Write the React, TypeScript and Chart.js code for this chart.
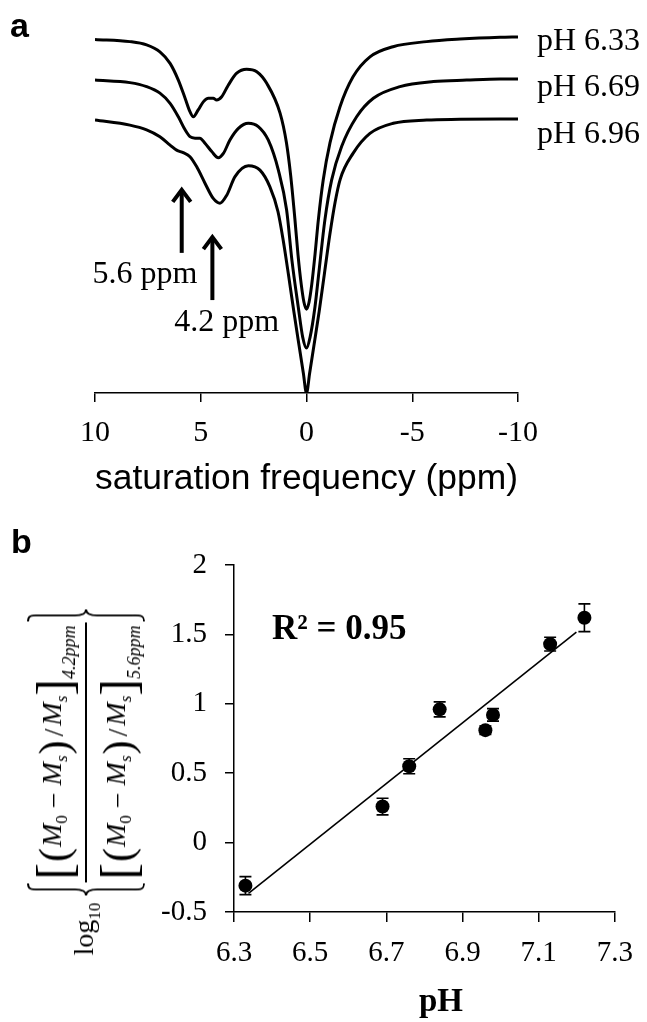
import React, { useEffect, useRef } from 'react';
import { Chart, registerables } from 'chart.js';

Chart.register(...registerables);

const SERIF = '"Liberation Serif", "Times New Roman", serif';
const SANS = '"Liberation Sans", Arial, sans-serif';

// ---------------- Panel a : Z-spectra ----------------
const freqTicks = [10, 5, 0, -5, -10];

const ppm633 = [10, 8.35, 7.56, 6.93, 6.45, 6.06, 5.74, 5.51, 5.35, 5.12, 4.88, 4.64, 4.41, 4.25, 4.01, 3.7, 3.3, 2.83, 2.35, 1.88, 1.25, 0.95, 0.75, 0.55, 0.4, 0.25, 0.12, 0, -0.12, -0.25, -0.4, -0.56, -0.79, -1.11, -1.58, -2.2, -3.0, -4.09, -5.68, -7.26, -9.15, -10];
const z633 = [0.974, 0.968, 0.959, 0.94, 0.908, 0.862, 0.812, 0.775, 0.761, 0.78, 0.802, 0.812, 0.812, 0.807, 0.816, 0.848, 0.881, 0.892, 0.885, 0.853, 0.771, 0.69, 0.6, 0.48, 0.38, 0.3, 0.25, 0.231, 0.25, 0.3, 0.38, 0.477, 0.587, 0.689, 0.788, 0.871, 0.926, 0.954, 0.968, 0.975, 0.98, 0.981];

const ppm669 = [10, 8.35, 7.56, 6.93, 6.45, 6.06, 5.74, 5.51, 5.27, 5.04, 4.8, 4.48, 4.17, 3.93, 3.62, 3.22, 2.75, 2.28, 1.81, 1.33, 0.94, 0.69, 0.39, 0.18, 0, -0.17, -0.4, -0.6, -0.87, -1.19, -1.66, -2.37, -3.16, -4.42, -6.0, -7.57, -9.15, -10];
const z669 = [0.862, 0.855, 0.844, 0.826, 0.798, 0.761, 0.725, 0.706, 0.702, 0.702, 0.688, 0.665, 0.648, 0.66, 0.697, 0.729, 0.743, 0.734, 0.697, 0.614, 0.504, 0.366, 0.237, 0.154, 0.124, 0.154, 0.237, 0.34, 0.477, 0.587, 0.679, 0.761, 0.812, 0.844, 0.858, 0.862, 0.865, 0.865];

const ppm696 = [10, 8.35, 7.56, 6.93, 6.45, 6.14, 5.83, 5.51, 5.19, 4.8, 4.41, 4.09, 3.77, 3.38, 2.75, 2.2, 1.73, 1.35, 1.1, 0.85, 0.6, 0.35, 0.15, 0, -0.15, -0.35, -0.6, -0.85, -1.1, -1.35, -1.6, -2.2, -3.0, -4.1, -5.68, -7.26, -9.15, -10];
const z696 = [0.752, 0.738, 0.725, 0.706, 0.683, 0.669, 0.662, 0.651, 0.623, 0.578, 0.536, 0.523, 0.545, 0.596, 0.626, 0.614, 0.568, 0.5, 0.42, 0.325, 0.225, 0.13, 0.055, 0, 0.055, 0.13, 0.225, 0.33, 0.435, 0.525, 0.59, 0.66, 0.715, 0.743, 0.752, 0.754, 0.755, 0.755];

const curveLabels = ['pH 6.33', 'pH 6.69', 'pH 6.96'];
const curveLabelZ = [0.967, 0.84, 0.711];

const arrowTexts = ['5.6 ppm', '4.2 ppm'];
const arrowPpm = [5.9, 4.45];
const arrowTipZ = [0.565, 0.435];
const arrowTailZ = [0.386, 0.256];
const arrowLabelPpm = [7.64, 3.77];
const arrowLabelZ = [0.325, 0.193];

// ---------------- Panel b : ratio vs pH ----------------
const phValues = [6.33, 6.69, 6.76, 6.84, 6.96, 6.98, 7.13, 7.22];
const ratioValues = [-0.31, 0.26, 0.55, 0.96, 0.81, 0.92, 1.43, 1.62];
const ratioErrors = [0.065, 0.06, 0.054, 0.054, 0.03, 0.045, 0.05, 0.1];
const fitPh = [6.338, 7.199];
const fitRatio = [-0.366, 1.517];
const phTicks = [6.3, 6.5, 6.7, 6.9, 7.1, 7.3];
const ratioTicks = [-0.5, 0, 0.5, 1, 1.5, 2];
const r2Text = 'R\u00b2 = 0.95';

const toXY = (xs: number[], ys: number[]) => xs.map((x, i) => ({ x, y: ys[i] }));

const annotA = {
  id: 'annotA',
  afterDatasetsDraw(chart: any) {
    const { ctx, chartArea, scales } = chart;
    const xs = scales.x;
    const ys = scales.y;
    ctx.save();
    ctx.fillStyle = '#000';
    ctx.strokeStyle = '#000';
    ctx.font = `32px ${SERIF}`;
    ctx.textBaseline = 'middle';
    ctx.textAlign = 'left';
    curveLabels.forEach((t, i) => {
      ctx.fillText(t, chartArea.right + 19, ys.getPixelForValue(curveLabelZ[i]));
    });
    arrowPpm.forEach((p, i) => {
      const px = xs.getPixelForValue(p);
      const tip = ys.getPixelForValue(arrowTipZ[i]);
      const tail = ys.getPixelForValue(arrowTailZ[i]);
      ctx.lineWidth = 4;
      ctx.lineCap = 'butt';
      ctx.beginPath();
      ctx.moveTo(px, tail);
      ctx.lineTo(px, tip + 3);
      ctx.stroke();
      ctx.lineJoin = 'miter';
      ctx.beginPath();
      ctx.moveTo(px - 9, tip + 14);
      ctx.lineTo(px, tip + 2);
      ctx.lineTo(px + 9, tip + 14);
      ctx.stroke();
    });
    ctx.textAlign = 'center';
    arrowTexts.forEach((t, i) => {
      ctx.fillText(t, xs.getPixelForValue(arrowLabelPpm[i]), ys.getPixelForValue(arrowLabelZ[i]));
    });
    ctx.restore();
  },
};

const annotB = {
  id: 'annotB',
  afterDatasetsDraw(chart: any) {
    const { ctx, scales } = chart;
    const xs = scales.x;
    const ys = scales.y;
    ctx.save();
    ctx.strokeStyle = '#000';
    ctx.lineWidth = 1.6;
    phValues.forEach((p, i) => {
      const px = xs.getPixelForValue(p);
      const hi = ys.getPixelForValue(ratioValues[i] + ratioErrors[i]);
      const lo = ys.getPixelForValue(ratioValues[i] - ratioErrors[i]);
      ctx.beginPath();
      ctx.moveTo(px, hi);
      ctx.lineTo(px, lo);
      ctx.moveTo(px - 6, hi);
      ctx.lineTo(px + 6, hi);
      ctx.moveTo(px - 6, lo);
      ctx.lineTo(px + 6, lo);
      ctx.stroke();
    });
    ctx.fillStyle = '#000';
    ctx.font = `bold 35px ${SERIF}`;
    ctx.textAlign = 'left';
    ctx.textBaseline = 'middle';
    ctx.fillText(r2Text, xs.getPixelForValue(6.4), ys.getPixelForValue(1.53));
    ctx.restore();
  },
};

function Brace({ flip }: { flip?: boolean }) {
  return (
    <svg width={14} height={118} viewBox="0 0 14 118" style={{ display: 'block', transform: flip ? 'scaleX(-1)' : undefined }}>
      <path d="M13 1 C6 1 7 6 7 14 L7 48 C7 55 5 59 1 59 C5 59 7 63 7 70 L7 104 C7 112 6 117 13 117" fill="none" stroke="#000" strokeWidth={1.8} />
    </svg>
  );
}

function MSym({ sub, italicSub }: { sub: string; italicSub?: boolean }) {
  return (
    <span style={{ display: 'inline-block', whiteSpace: 'nowrap' }}>
      <span style={{ fontStyle: 'italic' }}>M</span>
      <span style={{ fontSize: 17, verticalAlign: -6, fontStyle: italicSub ? 'italic' : 'normal' }}>{sub}</span>
    </span>
  );
}

function FracRow({ sub }: { sub: string }) {
  const big = { fontSize: 50, lineHeight: '50px' } as const;
  const paren = { fontSize: 42, lineHeight: '44px', margin: '0 1px' } as const;
  return (
    <div style={{ display: 'flex', alignItems: 'center', height: 53, whiteSpace: 'nowrap', padding: '0 3px' }}>
      <span style={big}>[</span>
      <span style={paren}>(</span>
      <MSym sub="0" />
      <span style={{ margin: '0 7px' }}>{'\u2212'}</span>
      <MSym sub="s" italicSub />
      <span style={paren}>)</span>
      <span style={{ margin: '0 3px' }}>/</span>
      <MSym sub="s" italicSub />
      <span style={big}>]</span>
      <span style={{ fontSize: 18, fontStyle: 'italic', alignSelf: 'flex-end', marginBottom: 0 }}>{sub}</span>
    </div>
  );
}

function YTitle() {
  return (
    <div
      style={{
        position: 'absolute',
        left: 86,
        top: 782,
        transform: 'translate(-50%, -50%) rotate(-90deg)',
        display: 'flex',
        alignItems: 'center',
        fontFamily: SERIF,
        fontSize: 28,
        color: '#000',
        whiteSpace: 'nowrap',
      }}
    >
      <span style={{ marginRight: 6 }}>
        log<span style={{ fontSize: 17, verticalAlign: -7 }}>10</span>
      </span>
      <Brace />
      <div style={{ display: 'flex', flexDirection: 'column', alignItems: 'stretch' }}>
        <FracRow sub="4.2ppm" />
        <div style={{ height: 1.6, background: '#000', margin: '5px 0' }} />
        <FracRow sub="5.6ppm" />
      </div>
      <Brace flip />
    </div>
  );
}

export default function App() {
  const refA = useRef<HTMLCanvasElement | null>(null);
  const refB = useRef<HTMLCanvasElement | null>(null);

  useEffect(() => {
    const chartA = new Chart(refA.current as HTMLCanvasElement, {
      type: 'line',
      data: {
        datasets: [
          { label: curveLabels[0], data: toXY(ppm633, z633) },
          { label: curveLabels[1], data: toXY(ppm669, z669) },
          { label: curveLabels[2], data: toXY(ppm696, z696) },
        ].map((d) => ({
          ...d,
          borderColor: '#000',
          borderWidth: 3,
          pointRadius: 0,
          fill: false,
          cubicInterpolationMode: 'monotone' as const,
        })),
      },
      options: {
        responsive: false,
        animation: false,
        layout: { padding: { left: 95, right: 129, top: 30, bottom: 0 } },
        plugins: { legend: { display: false }, tooltip: { enabled: false } },
        scales: {
          x: {
            type: 'linear',
            reverse: true,
            min: -10,
            max: 10,
            afterBuildTicks: (s: any) => {
              s.ticks = freqTicks.map((v) => ({ value: v }));
            },
            afterFit: (s: any) => {
              s.height = 127;
            },
            ticks: {
              font: { family: SERIF, size: 30 },
              color: '#000',
              padding: 13,
              maxRotation: 0,
              callback: (v: any) => String(v),
            },
            grid: { drawOnChartArea: false, tickLength: 9, color: '#000', lineWidth: 1.5 },
            border: { display: true, color: '#000', width: 1.5 },
            title: {
              display: true,
              text: 'saturation frequency (ppm)',
              font: { family: SANS, size: 35.5 },
              color: '#000',
              padding: { top: 0, bottom: 19 },
            },
          },
          y: { display: false, min: 0, max: 1 },
        },
      },
      plugins: [annotA],
    } as any);

    const chartB = new Chart(refB.current as HTMLCanvasElement, {
      type: 'scatter',
      data: {
        datasets: [
          {
            type: 'line',
            label: 'fit',
            data: toXY(fitPh, fitRatio),
            borderColor: '#000',
            borderWidth: 1.6,
            pointRadius: 0,
            fill: false,
          },
          {
            type: 'scatter',
            label: 'data',
            data: toXY(phValues, ratioValues),
            pointRadius: 7,
            backgroundColor: '#000',
            borderColor: '#000',
            borderWidth: 0,
          },
        ],
      },
      options: {
        responsive: false,
        animation: false,
        layout: { padding: { left: 0, right: 20, top: 45, bottom: 0 } },
        plugins: { legend: { display: false }, tooltip: { enabled: false } },
        scales: {
          x: {
            type: 'linear',
            min: 6.3,
            max: 7.3,
            afterBuildTicks: (s: any) => {
              s.ticks = phTicks.map((v) => ({ value: v }));
            },
            afterFit: (s: any) => {
              s.height = 110;
            },
            ticks: {
              font: { family: SERIF, size: 29 },
              color: '#000',
              padding: 14,
              maxRotation: 0,
              callback: (v: any) => Number(v).toFixed(1),
            },
            grid: { drawOnChartArea: false, tickLength: 10, color: '#000', lineWidth: 1.5 },
            border: { display: true, color: '#000', width: 1.5 },
            title: {
              display: true,
              text: '\u2003pH',
              font: { family: SERIF, size: 33, weight: 'bold' },
              color: '#000',
              padding: { top: 0, bottom: 0 },
            },
          },
          y: {
            type: 'linear',
            min: -0.5,
            max: 2,
            afterBuildTicks: (s: any) => {
              s.ticks = ratioTicks.map((v) => ({ value: v }));
            },
            afterFit: (s: any) => {
              s.width = 234;
            },
            ticks: {
              font: { family: SERIF, size: 29 },
              color: '#000',
              padding: 18,
              callback: (v: any) => String(v),
            },
            grid: { drawOnChartArea: false, tickLength: 9, color: '#000', lineWidth: 1.5 },
            border: { display: true, color: '#000', width: 1.5 },
          },
        },
      },
      plugins: [annotB],
    } as any);

    return () => {
      chartA.destroy();
      chartB.destroy();
    };
  }, []);

  const panelLabel = {
    position: 'absolute',
    fontFamily: SANS,
    fontWeight: 'bold',
    fontSize: 34,
    lineHeight: '34px',
    color: '#000',
  } as const;

  return (
    <div style={{ position: 'absolute', left: 0, top: 0, width: 647, height: 1022, background: '#fff', overflow: 'hidden' }}>
      <canvas ref={refA} width={647} height={520} style={{ position: 'absolute', left: 0, top: 0 }} />
      <canvas ref={refB} width={647} height={502} style={{ position: 'absolute', left: 0, top: 520 }} />
      <div style={{ ...panelLabel, left: 10, top: 8 }}>a</div>
      <div style={{ ...panelLabel, left: 11, top: 524 }}>b</div>
      <YTitle />
    </div>
  );
}
